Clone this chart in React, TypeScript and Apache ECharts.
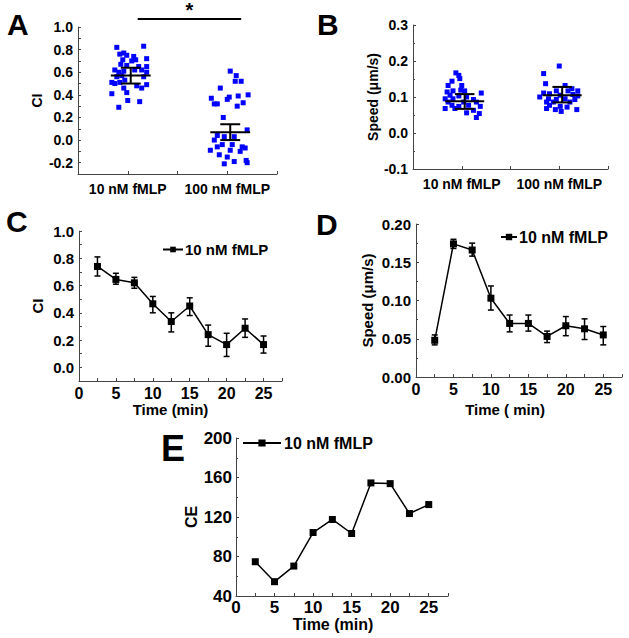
import React, { useEffect, useRef } from "react";
import * as echarts from "echarts";

const FONT = "'Liberation Sans', Arial, Helvetica, sans-serif";

// Panel A: CI per cell (jitter offset within category, value)
const aCategories = ["10 nM fMLP", "100 nM fMLP"];
const a10Jitter = [-0.11, 0.16, -0.08, -0.04, -0.01, 0.06, -0.05, 0.04, 0.08, 0.19, -0.07, -0.01, 0.11, 0.19, -0.13, -0.09, -0.04, 0.07, 0.14, 0.19, -0.11, -0.06, 0.16, -0.16, -0.13, -0.08, -0.03, 0.19, 0.09, 0.14, -0.04, -0.16, -0.01, 0.0, 0.12, -0.09];
const a10Values = [0.82, 0.83, 0.76, 0.77, 0.75, 0.74, 0.71, 0.70, 0.71, 0.72, 0.67, 0.66, 0.65, 0.65, 0.62, 0.60, 0.61, 0.62, 0.62, 0.60, 0.56, 0.57, 0.56, 0.51, 0.50, 0.51, 0.53, 0.49, 0.48, 0.46, 0.46, 0.41, 0.42, 0.35, 0.34, 0.29];
const a100Jitter = [0.03, 0.09, 0.08, 0.14, -0.07, -0.16, -0.13, -0.10, 0.0, 0.02, 0.11, 0.21, 0.16, 0.10, -0.04, 0.20, -0.10, -0.03, 0.07, -0.13, -0.05, 0.05, -0.10, 0.15, 0.18, 0.03, -0.17, 0.13, -0.08, 0.0, 0.19, 0.07, 0.20, -0.03];
const a100Values = [0.61, 0.57, 0.52, 0.52, 0.46, 0.37, 0.32, 0.32, 0.36, 0.38, 0.39, 0.40, 0.33, 0.30, 0.20, 0.09, 0.04, 0.03, 0.03, 0.0, -0.04, -0.04, -0.06, -0.06, -0.07, -0.09, -0.09, -0.10, -0.13, -0.15, -0.18, -0.19, -0.20, -0.21];
const aMeans = [0.57, 0.07];
const aLow = [0.50, 0.0];
const aHigh = [0.64, 0.14];

// Panel B: speed per cell
const b10Jitter = [-0.06, -0.03, -0.02, -0.10, -0.14, 0.0, -0.15, -0.09, -0.01, 0.03, 0.20, -0.12, -0.03, -0.17, -0.09, 0.05, 0.12, -0.14, 0.02, 0.15, -0.10, -0.03, 0.07, 0.19, -0.17, -0.07, 0.12, 0.05, 0.18, 0.15];
const b10Values = [0.167, 0.160, 0.151, 0.144, 0.132, 0.132, 0.114, 0.117, 0.119, 0.117, 0.111, 0.105, 0.103, 0.095, 0.095, 0.100, 0.093, 0.086, 0.086, 0.086, 0.077, 0.074, 0.077, 0.074, 0.068, 0.068, 0.063, 0.056, 0.054, 0.043];
const b100Jitter = [0.0, -0.16, -0.14, 0.06, 0.13, -0.03, 0.09, 0.19, -0.16, -0.10, 0.01, 0.14, 0.19, -0.20, -0.11, -0.03, 0.06, 0.16, -0.13, -0.06, 0.11, -0.10, 0.01, 0.08, -0.13, 0.18, -0.04, 0.02];
const b100Values = [0.186, 0.165, 0.137, 0.132, 0.123, 0.117, 0.117, 0.117, 0.111, 0.109, 0.105, 0.107, 0.103, 0.100, 0.095, 0.093, 0.095, 0.093, 0.086, 0.086, 0.086, 0.077, 0.074, 0.072, 0.068, 0.065, 0.065, 0.060];
const bMeans = [0.088, 0.105];
const bLow = [0.067, 0.085];
const bHigh = [0.108, 0.128];

// Time courses
const times = [2.5, 5, 7.5, 10, 12.5, 15, 17.5, 20, 22.5, 25];
const cValues = [0.74, 0.645, 0.62, 0.466, 0.336, 0.45, 0.24, 0.167, 0.287, 0.167];
const cLow = [0.67, 0.61, 0.58, 0.40, 0.26, 0.38, 0.155, 0.08, 0.22, 0.105];
const cHigh = [0.81, 0.69, 0.66, 0.52, 0.40, 0.51, 0.31, 0.25, 0.355, 0.23];
const dValues = [0.048, 0.174, 0.166, 0.103, 0.070, 0.070, 0.053, 0.067, 0.063, 0.055];
const dLow = [0.042, 0.168, 0.158, 0.0875, 0.059, 0.060, 0.045, 0.054, 0.049, 0.042];
const dHigh = [0.055, 0.180, 0.175, 0.119, 0.081, 0.081, 0.060, 0.079, 0.076, 0.066];
const eValues = [74.7, 54.5, 70.3, 104.3, 117.5, 103.3, 154.5, 153.8, 123.5, 132.6];

const seriesName = "10 nM fMLP";
const panelLetters = ["A", "B", "C", "D", "E"];

const AXIS_COLOR = "#444";

function axisBase(fontSize: number) {
  return {
    axisLine: { onZero: false, lineStyle: { color: AXIS_COLOR, width: 1 } },
    axisTick: { inside: true, length: 3, lineStyle: { color: AXIS_COLOR } },
    splitLine: { show: false },
    axisLabel: { color: "#000", fontWeight: "bold", fontSize, fontFamily: FONT },
    nameTextStyle: { color: "#000", fontWeight: "bold", fontSize, fontFamily: FONT },
  };
}

const evenTenths = (v: number) => {
  const r = Math.round(v * 10);
  return r % 2 === 0 ? (r / 10).toFixed(1) : "";
};
const catLabel = (v: number) => {
  const r = Math.round(v * 2) / 2;
  if (r === 0) return aCategories[0];
  if (r === 1) return aCategories[1];
  return "";
};
const timeLabel = (v: number) => (Math.round(v * 2) % 10 === 0 ? String(Math.round(v)) : "");

function meanRender(params: any, api: any) {
  const x = api.value(0);
  const m = api.value(1);
  const lo = api.value(2);
  const hi = api.value(3);
  const off = 0.03;
  const L = api.coord([x + off - 0.2, m]);
  const R = api.coord([x + off + 0.2, m]);
  const T = api.coord([x + off, hi]);
  const B = api.coord([x + off, lo]);
  const cl = api.coord([x + off - 0.1, hi]);
  const cr = api.coord([x + off + 0.1, hi]);
  const bl = api.coord([x + off - 0.1, lo]);
  const br = api.coord([x + off + 0.1, lo]);
  const st = { stroke: "#000", lineWidth: 2 };
  return {
    type: "group",
    children: [
      { type: "line", shape: { x1: L[0], y1: L[1], x2: R[0], y2: R[1] }, style: st },
      { type: "line", shape: { x1: T[0], y1: T[1], x2: B[0], y2: B[1] }, style: st },
      { type: "line", shape: { x1: cl[0], y1: cl[1], x2: cr[0], y2: cr[1] }, style: st },
      { type: "line", shape: { x1: bl[0], y1: bl[1], x2: br[0], y2: br[1] }, style: st },
    ],
  };
}

function errRender(params: any, api: any) {
  const x = api.value(0);
  const lo = api.value(1);
  const hi = api.value(2);
  const T = api.coord([x, hi]);
  const B = api.coord([x, lo]);
  const st = { stroke: "#000", lineWidth: 1.5 };
  const w = 3;
  return {
    type: "group",
    children: [
      { type: "line", shape: { x1: T[0], y1: T[1], x2: B[0], y2: B[1] }, style: st },
      { type: "line", shape: { x1: T[0] - w, y1: T[1], x2: T[0] + w, y2: T[1] }, style: st },
      { type: "line", shape: { x1: B[0] - w, y1: B[1], x2: B[0] + w, y2: B[1] }, style: st },
    ],
  };
}

function sigRender(params: any, api: any) {
  const x1 = api.value(0);
  const x2 = api.value(1);
  const y = api.value(2);
  const P1 = api.coord([x1, y]);
  const P2 = api.coord([x2, y]);
  return {
    type: "group",
    children: [
      { type: "line", shape: { x1: P1[0], y1: P1[1], x2: P2[0], y2: P2[1] }, style: { stroke: "#000", lineWidth: 2 } },
      {
        type: "text",
        x: (P1[0] + P2[0]) / 2,
        y: P1[1] + 1,
        style: { text: "*", fill: "#000", font: `bold 20px ${FONT}`, align: "center", verticalAlign: "bottom" },
      },
    ],
  };
}

export default function App() {
  const ref = useRef<HTMLDivElement>(null);
  useEffect(() => {
    document.body.style.margin = "0";
    const chart = echarts.init(ref.current!, null, { renderer: "svg" });

    const lineSeries = (values: number[], xi: number, yi: number) => ({
      type: "line",
      name: seriesName,
      xAxisIndex: xi,
      yAxisIndex: yi,
      data: times.map((t, i) => [t, values[i]]),
      symbol: "rect",
      symbolSize: 7,
      itemStyle: { color: "#000" },
      lineStyle: { color: "#000", width: 1.5 },
      z: 3,
    });

    const scatterStyle = { color: "#0000ff", opacity: 1 };

    chart.setOption({
      animation: false,
      grid: [
        { left: 78, top: 27, width: 199, height: 147 },
        { left: 413, top: 25, width: 195, height: 144 },
        { left: 79, top: 231, width: 203, height: 150 },
        { left: 416, top: 224, width: 206, height: 153 },
        { left: 236, top: 438, width: 212, height: 158 },
      ],
      xAxis: [
        { ...axisBase(14), type: "value", gridIndex: 0, min: -0.5, max: 1.5, interval: 0.5, axisLabel: { ...axisBase(14).axisLabel, formatter: catLabel, margin: 8 } },
        { ...axisBase(14), type: "value", gridIndex: 1, min: -0.5, max: 1.5, interval: 0.5, axisLabel: { ...axisBase(14).axisLabel, formatter: catLabel, margin: 8 } },
        { ...axisBase(15), type: "value", gridIndex: 2, min: 0, max: 27.5, interval: 2.5, axisLabel: { ...axisBase(16).axisLabel, formatter: timeLabel, margin: 4 }, name: "Time (min)", nameLocation: "middle", nameGap: 21, nameTextStyle: { ...axisBase(15).nameTextStyle, padding: [0, 20, 0, 0] } },
        { ...axisBase(15), type: "value", gridIndex: 3, min: 0, max: 27.5, interval: 2.5, axisLabel: { ...axisBase(16).axisLabel, formatter: timeLabel, margin: 4 }, name: "Time ( min)", nameLocation: "middle", nameGap: 25, nameTextStyle: { ...axisBase(15).nameTextStyle, padding: [0, 28, 0, 0] } },
        { ...axisBase(16), type: "value", gridIndex: 4, min: 0, max: 27.5, interval: 2.5, axisLabel: { ...axisBase(17).axisLabel, formatter: timeLabel, margin: 3 }, name: "Time (min)", nameLocation: "middle", nameGap: 19, nameTextStyle: { ...axisBase(16).nameTextStyle, padding: [0, 18, 0, 0] } },
      ],
      yAxis: [
        { ...axisBase(14), type: "value", gridIndex: 0, min: -0.3, max: 1.0, interval: 0.1, axisLabel: { ...axisBase(14).axisLabel, formatter: evenTenths, margin: 5 }, name: "CI", nameLocation: "middle", nameGap: 34 },
        { ...axisBase(14), type: "value", gridIndex: 1, min: -0.1, max: 0.3, interval: 0.1, axisLabel: { ...axisBase(14).axisLabel, formatter: (v: number) => (Math.round(v * 10) / 10).toFixed(1), margin: 5 }, minorTick: { show: true, splitNumber: 2, length: 2, lineStyle: { color: AXIS_COLOR } }, name: "Speed (μm/s)", nameLocation: "middle", nameGap: 33 },
        { ...axisBase(15), type: "value", gridIndex: 2, min: -0.1, max: 1.0, interval: 0.1, axisLabel: { ...axisBase(15).axisLabel, formatter: evenTenths, margin: 5 }, name: "CI", nameLocation: "middle", nameGap: 34 },
        { ...axisBase(15), type: "value", gridIndex: 3, min: 0, max: 0.2, interval: 0.05, axisLabel: { ...axisBase(15).axisLabel, formatter: (v: number) => (Math.round(v * 100) / 100).toFixed(2), margin: 5 }, minorTick: { show: true, splitNumber: 2, length: 2, lineStyle: { color: AXIS_COLOR } }, name: "Speed (μm/s)", nameLocation: "middle", nameGap: 41 },
        { ...axisBase(16), type: "value", gridIndex: 4, min: 40, max: 200, interval: 40, axisLabel: { ...axisBase(17).axisLabel, margin: 4 }, minorTick: { show: true, splitNumber: 2, length: 2, lineStyle: { color: AXIS_COLOR } }, name: "CE", nameLocation: "middle", nameGap: 37 },
      ],
      legend: [
        { data: [seriesName], left: 157, top: 237, itemWidth: 20, itemHeight: 7, itemGap: 0, textStyle: { color: "#000", fontWeight: "bold", fontSize: 15, fontFamily: FONT, padding: [0, 0, 0, -3] }, selectedMode: false },
        { data: [seriesName], left: 495, top: 224, itemWidth: 16, itemHeight: 8, itemGap: 0, textStyle: { color: "#000", fontWeight: "bold", fontSize: 16, fontFamily: FONT, padding: [0, 0, 0, -3] }, selectedMode: false },
        { data: [seriesName], left: 237, top: 430, itemWidth: 38, itemHeight: 9, itemGap: 0, textStyle: { color: "#000", fontWeight: "bold", fontSize: 16, fontFamily: FONT, padding: [0, 0, 0, -2] }, selectedMode: false },
      ],
      graphic: [
        { type: "text", left: 7, top: 9, style: { text: panelLetters[0], fill: "#000", font: `bold 30px ${FONT}` } },
        { type: "text", left: 317, top: 9, style: { text: panelLetters[1], fill: "#000", font: `bold 30px ${FONT}` } },
        { type: "text", left: 6, top: 206, style: { text: panelLetters[2], fill: "#000", font: `bold 30px ${FONT}` } },
        { type: "text", left: 316, top: 209, style: { text: panelLetters[3], fill: "#000", font: `bold 30px ${FONT}` } },
        { type: "text", left: 161, top: 430, style: { text: panelLetters[4], fill: "#000", font: `bold 36px ${FONT}` } },
      ],
      series: [
        { type: "scatter", name: "A10", xAxisIndex: 0, yAxisIndex: 0, symbol: "rect", symbolSize: 5, itemStyle: scatterStyle, data: a10Values.map((v, i) => [0 + a10Jitter[i], v]) },
        { type: "scatter", name: "A100", xAxisIndex: 0, yAxisIndex: 0, symbol: "rect", symbolSize: 5, itemStyle: scatterStyle, data: a100Values.map((v, i) => [1 + a100Jitter[i], v]) },
        { type: "custom", name: "Amean", xAxisIndex: 0, yAxisIndex: 0, renderItem: meanRender, data: aMeans.map((m, i) => [i, m, aLow[i], aHigh[i]]), z: 4 },
        { type: "custom", name: "Asig", xAxisIndex: 0, yAxisIndex: 0, renderItem: sigRender, clip: false, data: [[0.1, 1.14, 1.07]], z: 4 },
        { type: "scatter", name: "B10", xAxisIndex: 1, yAxisIndex: 1, symbol: "rect", symbolSize: 5, itemStyle: scatterStyle, data: b10Values.map((v, i) => [0 + b10Jitter[i], v]) },
        { type: "scatter", name: "B100", xAxisIndex: 1, yAxisIndex: 1, symbol: "rect", symbolSize: 5, itemStyle: scatterStyle, data: b100Values.map((v, i) => [1 + b100Jitter[i], v]) },
        { type: "custom", name: "Bmean", xAxisIndex: 1, yAxisIndex: 1, renderItem: meanRender, data: bMeans.map((m, i) => [i, m, bLow[i], bHigh[i]]), z: 4 },
        lineSeries(cValues, 2, 2),
        { type: "custom", name: "Cerr", xAxisIndex: 2, yAxisIndex: 2, renderItem: errRender, data: times.map((t, i) => [t, cLow[i], cHigh[i]]), z: 2 },
        lineSeries(dValues, 3, 3),
        { type: "custom", name: "Derr", xAxisIndex: 3, yAxisIndex: 3, renderItem: errRender, data: times.map((t, i) => [t, dLow[i], dHigh[i]]), z: 2 },
        lineSeries(eValues, 4, 4),
      ],
    });
    return () => chart.dispose();
  }, []);
  return <div ref={ref} style={{ position: "absolute", left: 0, top: 0, width: 629, height: 638 }} />;
}
